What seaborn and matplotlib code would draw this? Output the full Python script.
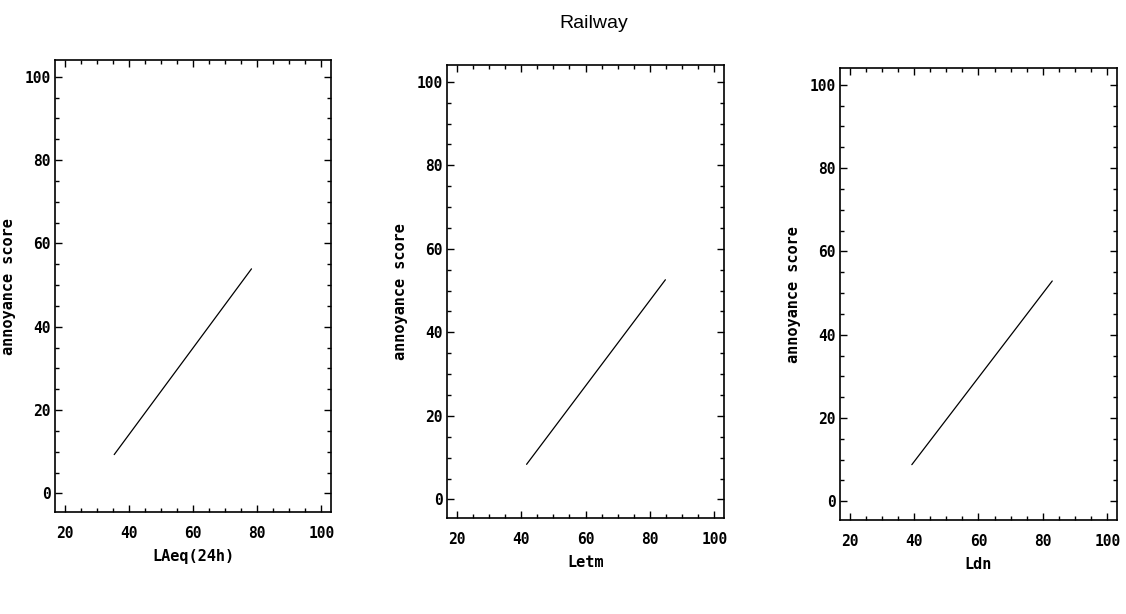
import matplotlib
matplotlib.use("Agg")
import matplotlib.pyplot as plt
import seaborn as sns
import pandas as pd
from matplotlib.ticker import MultipleLocator

# Data (line endpoints of each fitted relation)
panel_labels = ["LAeq(24h)", "Letm", "Ldn"]
x_laeq = [35.4, 78.2]
y_laeq = [9.3, 53.9]
x_letm = [41.7, 84.8]
y_letm = [8.4, 52.6]
x_ldn = [39.3, 82.9]
y_ldn = [8.8, 52.9]
tick_vals = [20, 40, 60, 80, 100]
ytick_vals = [0, 20, 40, 60, 80, 100]

series = [(x_laeq, y_laeq), (x_letm, y_letm), (x_ldn, y_ldn)]

sns.set_style("ticks")
plt.rcParams["font.family"] = ["DejaVu Sans Mono", "DejaVu Sans"]

fig = plt.figure(figsize=(11.26, 6.14), dpi=100)
rects = [
    [0.049, 0.166, 0.245, 0.736],
    [0.397, 0.156, 0.246, 0.738],
    [0.746, 0.153, 0.246, 0.736],
]

mono = dict(family="DejaVu Sans Mono", weight="bold")

for rect, (xs, ys), lab in zip(rects, series, panel_labels):
    ax = fig.add_axes(rect)
    df = pd.DataFrame({"x": xs, "y": ys})
    sns.lineplot(data=df, x="x", y="y", ax=ax, color="black", linewidth=0.9)
    ax.set_xlim(17, 103)
    ax.set_ylim(-4.5, 104)
    ax.set_xticks(tick_vals)
    ax.set_yticks(ytick_vals)
    ax.xaxis.set_minor_locator(MultipleLocator(5))
    ax.yaxis.set_minor_locator(MultipleLocator(5))
    ax.tick_params(which="both", direction="in", top=True, right=True,
                   color="black", width=1.0)
    ax.tick_params(which="major", length=5)
    ax.tick_params(which="minor", length=3)
    ax.tick_params(axis="x", which="major", pad=10)
    ax.tick_params(axis="y", which="major", pad=3)
    for t in ax.get_xticklabels() + ax.get_yticklabels():
        t.set_fontfamily("DejaVu Sans Mono")
        t.set_fontweight("bold")
        t.set_fontsize(10.5)
        t.set_color("black")
    for s in ax.spines.values():
        s.set_visible(True)
        s.set_color("black")
        s.set_linewidth(1.2)
    ax.set_xlabel(lab, fontsize=11, labelpad=6, color="black", **mono)
    ax.set_ylabel("annoyance score", fontsize=11, labelpad=6, color="black", **mono)

fig.text(0.527, 0.962, "Railway", ha="center", va="center", fontsize=14,
         family="Liberation Sans", color="black")

fig.savefig("out.png", dpi=100, facecolor="white")
